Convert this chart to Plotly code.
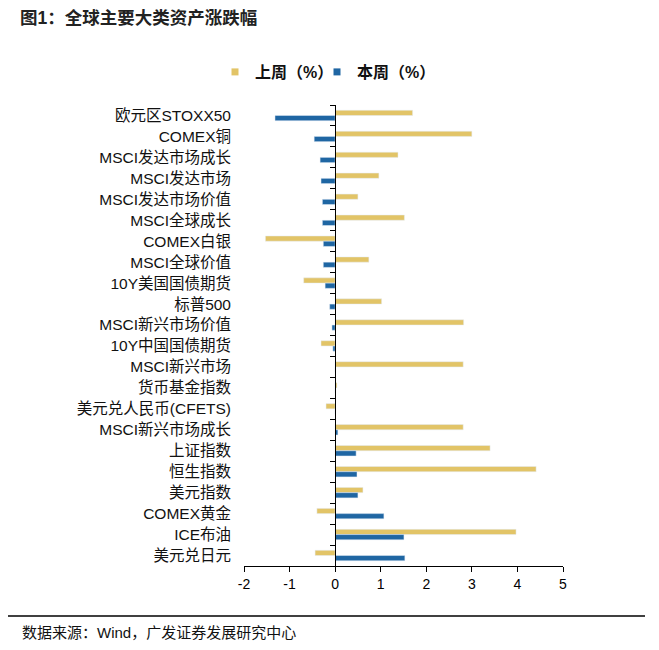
import plotly.graph_objects as go

categories = ["欧元区STOXX50", "COMEX铜", "MSCI发达市场成长", "MSCI发达市场", "MSCI发达市场价值",
              "MSCI全球成长", "COMEX白银", "MSCI全球价值", "10Y美国国债期货", "标普500",
              "MSCI新兴市场价值", "10Y中国国债期货", "MSCI新兴市场", "货币基金指数",
              "美元兑人民币(CFETS)", "MSCI新兴市场成长", "上证指数", "恒生指数", "美元指数",
              "COMEX黄金", "ICE布油", "美元兑日元"]
last_week = [1.70, 3.00, 1.38, 0.96, 0.50, 1.52, -1.53, 0.74, -0.69, 1.02, 2.82, -0.31,
             2.81, 0.04, -0.20, 2.81, 3.40, 4.41, 0.61, -0.40, 3.97, -0.44]
this_week = [-1.32, -0.46, -0.33, -0.31, -0.28, -0.28, -0.26, -0.26, -0.22, -0.12, -0.07, -0.05,
             0.0, 0.0, 0.0, 0.06, 0.46, 0.48, 0.50, 1.07, 1.51, 1.53]
series_names = ["上周（%）", "本周（%）"]
x_ticks = [-2, -1, 0, 1, 2, 3, 4, 5]
x_ticktext = ["-2", "-1", "0", "1", "2", "3", "4", "5"]

YELLOW = "#E2C467"
BLUE = "#1F66A3"
FONT = "Liberation Sans, Arial, Noto Sans CJK SC"

# page has an 8px body margin; figure coordinates are page coordinates minus 8
W, H = 651, 642
L, R, T, B = 236, 96, 97, 84
pw = W - L - R
ph = H - T - B

n = len(categories)
fig = go.Figure()
fig.add_trace(go.Bar(y=categories, x=last_week, orientation="h", marker_color=YELLOW,
                     name=series_names[0], showlegend=False))
fig.add_trace(go.Bar(y=categories, x=this_week, orientation="h", marker_color=BLUE,
                     name=series_names[1], showlegend=False))
for nm, c, lg in zip(series_names, [YELLOW, BLUE], ["legend", "legend2"]):
    fig.add_trace(go.Scatter(x=[None], y=[None], mode="markers", name=nm, legend=lg,
                             marker=dict(symbol="square", size=7, color=c)))


def px2x(px):
    return (px - L) / pw


def px2y(py):
    return 1 - (py - T) / ph


legend_font = dict(size=16, family=FONT, color="#111", weight="bold")
common_leg = dict(orientation="h", xref="container", yref="container", xanchor="left",
                  y=1 - 64 / H, yanchor="middle", font=legend_font, itemwidth=30,
                  bgcolor="rgba(0,0,0,0)")

fig.update_layout(
    width=W, height=H,
    margin=dict(l=L, r=R, t=T, b=B),
    paper_bgcolor="white", plot_bgcolor="white",
    barmode="group", bargap=0.5, bargroupgap=0,
    font=dict(family=FONT, size=13, color="#000"),
    title=dict(text="<b>图1：全球主要大类资产涨跌幅</b>", x=12 / W, xanchor="left",
               y=1 - 10 / H, yanchor="middle", font=dict(size=17.5, color="#222", family=FONT)),
    legend=dict(x=207 / W, **common_leg),
    legend2=dict(x=309 / W, **common_leg),
    xaxis=dict(range=[-2, 5], tickvals=x_ticks, ticktext=x_ticktext, showgrid=False,
               zeroline=False, showline=True, linecolor="black", linewidth=1,
               ticks="outside", ticklen=5, tickcolor="black", tickfont=dict(size=14)),
    yaxis=dict(type="category", categoryorder="array", categoryarray=categories,
               range=[n - 0.5, -0.5], showgrid=False, zeroline=False, showline=False,
               ticks="", ticklabelstandoff=12, tickfont=dict(size=15.5, color="#111")),
    yaxis2=dict(overlaying="y", anchor="free", position=2 / 7, range=[n - 0.5, -0.5],
                tickvals=[i - 0.5 for i in range(n + 1)], showticklabels=False,
                ticks="outside", ticklen=5, tickcolor="black", showline=True,
                linecolor="black", linewidth=1, showgrid=False, zeroline=False),
    shapes=[dict(type="line", xref="paper", yref="paper",
                 x0=px2x(0), x1=px2x(637), y0=px2y(608), y1=px2y(608),
                 line=dict(color="black", width=1.5))],
    annotations=[dict(text="数据来源：Wind，广发证券发展研究中心", xref="paper", yref="paper",
                      x=px2x(12), y=px2y(624), xanchor="left", yanchor="middle",
                      showarrow=False, font=dict(size=15, family=FONT, color="#111"))],
)
fig.add_trace(go.Scatter(x=[None], y=[None], yaxis="y2", showlegend=False, hoverinfo="skip"))

fig.write_html("out.html")
